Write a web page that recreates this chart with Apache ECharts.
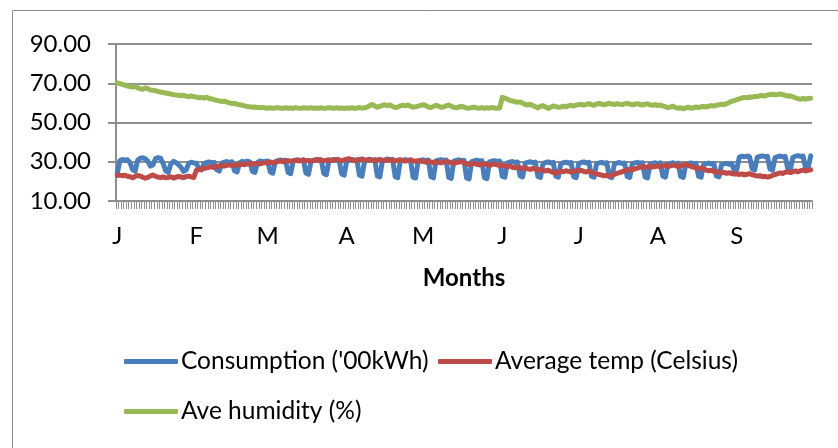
<!DOCTYPE html>
<html>
<head>
<meta charset="utf-8">
<script src="https://cdn.jsdelivr.net/npm/echarts@6/dist/echarts.min.js"></script>
<style>
  html, body { margin: 0; padding: 0; background: #fff; }
  #chart { width: 838px; height: 448px; }
</style>
</head>
<body>
<div id="chart"></div>
<script>
// Month tick labels and day counts (Jan–Sep)
const monthLabels = ['J', 'F', 'M', 'A', 'M', 'J', 'J', 'A', 'S'];
const monthDays = [31, 28, 31, 30, 31, 30, 31, 31, 30];

const seriesNames = ["Consumption ('00kWh)", 'Average temp (Celsius)', 'Ave humidity (%)'];

// Daily consumption ('00kWh), one line per month
const consumption = [
  24.0, 30.5, 31.2, 30.8, 31.0, 29.5, 26.0, 25.2, 30.8, 31.8, 32.0, 31.5, 30.2, 27.8, 28.4, 31.6, 32.1, 31.8, 29.0, 25.4, 24.6, 28.8, 30.2, 29.6, 28.5, 27.2, 25.1, 25.8, 29.1, 29.8, 29.4,
  29.2, 26.4, 25.8, 29.0, 29.6, 29.9, 29.4, 29.7, 25.9, 25.2, 29.3, 29.8, 30.1, 29.6, 30.0, 25.4, 24.8, 29.5, 30.2, 29.8, 30.3, 29.9, 25.1, 24.6, 29.7, 30.4, 30.0, 30.2,
  30.4, 24.8, 24.2, 30.1, 30.6, 30.9, 30.5, 30.8, 24.5, 23.9, 30.3, 30.7, 31.0, 30.6, 30.9, 24.3, 23.6, 30.2, 30.8, 31.1, 30.7, 31.0, 24.0, 23.4, 30.4, 30.9, 31.2, 30.8, 31.0, 23.8, 23.2,
  30.5, 30.9, 31.2, 30.8, 31.0, 23.1, 22.6, 30.4, 30.9, 31.3, 30.7, 31.1, 22.8, 22.3, 30.6, 31.0, 31.4, 30.9, 31.2, 22.5, 21.9, 30.3, 30.8, 31.1, 30.6, 30.9, 22.2, 21.7, 30.2, 30.7,
  31.0, 30.6, 30.9, 22.4, 21.8, 30.4, 30.8, 31.1, 30.7, 30.9, 22.0, 21.5, 30.3, 30.7, 31.0, 30.5, 30.8, 21.8, 21.3, 30.1, 30.5, 30.8, 30.3, 30.6, 21.9, 21.4, 29.9, 30.3, 30.6, 30.2, 30.4,
  22.6, 22.1, 29.4, 29.8, 30.1, 29.6, 29.9, 22.8, 22.3, 29.3, 29.7, 30.0, 29.5, 29.8, 22.5, 22.0, 29.2, 29.6, 29.9, 29.4, 29.7, 22.7, 22.2, 29.1, 29.5, 29.8, 29.3, 29.6, 22.4, 21.9,
  29.2, 29.6, 29.9, 29.4, 29.7, 22.6, 22.1, 29.0, 29.4, 29.7, 29.2, 29.5, 22.4, 21.9, 28.9, 29.3, 29.6, 29.1, 29.4, 22.5, 22.0, 29.0, 29.4, 29.7, 29.2, 29.5, 22.3, 21.8, 28.8, 29.2, 29.5,
  29.0, 29.4, 22.7, 22.2, 28.8, 29.2, 29.5, 29.0, 29.3, 22.5, 22.0, 28.7, 29.1, 29.4, 28.9, 29.2, 22.6, 22.1, 28.6, 29.0, 29.3, 28.8, 29.1, 22.8, 22.3, 28.5, 28.9, 29.2, 28.7, 29.0, 25.5,
  26.0, 32.4, 32.8, 32.5, 32.9, 32.6, 26.5, 25.8, 32.2, 32.7, 33.0, 32.6, 32.8, 26.3, 25.7, 32.1, 32.6, 32.9, 32.5, 32.7, 26.4, 25.9, 32.3, 32.8, 33.1, 32.7, 32.9, 26.6, 27.2, 33.0
];

// Daily average temperature (Celsius)
const avgTemp = [
  23.0, 23.2, 22.9, 23.1, 22.6, 22.4, 21.8, 22.5, 23.0, 22.7, 22.1, 21.6, 22.0, 22.8, 23.2, 22.6, 22.2, 21.9, 22.3, 21.8, 22.0, 22.4, 21.7, 22.1, 22.5, 22.2, 21.9, 22.4, 22.7, 22.3, 22.0,
  25.6, 26.0, 26.3, 26.5, 26.9, 27.2, 27.4, 27.1, 27.6, 27.9, 28.1, 27.8, 28.2, 28.4, 28.0, 28.3, 28.6, 28.4, 28.8, 28.5, 28.9, 29.1, 28.7, 29.0, 29.2, 28.9, 29.3, 29.5,
  29.6, 29.9, 29.4, 29.8, 30.1, 30.4, 30.0, 30.3, 30.6, 30.2, 30.5, 30.8, 30.4, 30.6, 30.9, 30.5, 30.7, 30.3, 30.6, 30.9, 31.1, 30.7, 30.4, 30.8, 31.0, 30.6, 30.9, 31.2, 30.8, 30.5, 30.9,
  31.3, 31.5, 30.9, 30.6, 30.8, 31.2, 31.4, 31.0, 30.7, 31.1, 30.8, 30.5, 30.9, 31.2, 30.8, 30.6, 30.9, 31.1, 30.7, 30.4, 30.8, 31.0, 30.6, 30.3, 30.7, 30.9, 30.5, 30.2, 30.6, 30.4,
  30.1, 29.8, 30.3, 29.9, 29.6, 30.0, 29.7, 29.4, 29.8, 30.2, 29.9, 29.5, 29.2, 29.6, 29.9, 30.1, 29.5, 29.0, 28.6, 28.9, 29.2, 28.7, 28.4, 28.8, 29.1, 28.5, 28.2, 28.6, 28.9, 28.4, 28.1,
  28.3, 27.9, 27.5, 27.8, 27.2, 26.9, 27.3, 26.8, 26.5, 26.9, 26.4, 26.1, 26.6, 26.2, 25.8, 26.1, 25.6, 25.3, 25.7, 25.1, 24.6, 24.2, 24.8, 25.2, 24.9, 25.4, 25.1, 24.7, 25.2, 25.5,
  25.3, 25.6, 25.1, 24.8, 25.2, 24.6, 24.2, 23.8, 23.5, 23.2, 22.8, 23.1, 22.7, 23.0, 23.6, 24.1, 24.5, 24.9, 25.3, 25.8, 26.2, 25.9, 26.4, 26.8, 27.2, 27.5, 27.1, 27.4, 27.8, 27.3, 27.6,
  27.8, 27.4, 27.9, 28.2, 27.6, 27.9, 28.3, 28.0, 27.5, 27.9, 28.4, 28.6, 28.1, 27.7, 27.3, 26.8, 26.5, 26.9, 26.2, 25.8, 25.4, 25.7, 25.1, 24.6, 24.9, 24.3, 24.6, 24.1, 24.4, 24.0, 23.7,
  23.9, 23.5, 23.8, 23.3, 23.6, 24.0, 23.4, 23.1, 22.7, 22.9, 22.4, 22.6, 22.2, 22.5, 23.0, 23.5, 23.9, 24.3, 24.0, 24.6, 24.9, 24.5, 25.0, 25.3, 24.9, 25.4, 25.7, 25.3, 25.6, 25.9
];

// Daily average humidity (%)
const humidity = [
  70.2, 69.8, 69.4, 69.0, 68.6, 68.3, 68.0, 68.4, 67.6, 67.2, 66.9, 67.6, 67.2, 66.6, 66.4, 66.2, 65.8, 65.5, 65.3, 65.0, 64.8, 64.5, 64.2, 64.0, 63.9, 63.6, 63.9, 63.4, 63.2, 63.5, 63.1,
  63.0, 62.6, 62.8, 62.4, 62.9, 62.3, 62.0, 61.6, 61.3, 61.0, 60.7, 60.9, 60.4, 60.0, 59.6, 59.8, 59.3, 59.0, 58.8, 58.5, 58.2, 58.0, 57.8, 57.9, 57.6, 57.5, 57.7, 57.4,
  57.3, 57.5, 57.2, 57.4, 57.6, 57.3, 57.2, 57.5, 57.3, 57.4, 57.2, 57.6, 57.3, 57.2, 57.5, 57.4, 57.3, 57.6, 57.2, 57.4, 57.3, 57.5, 57.2, 57.3, 57.6, 57.4, 57.2, 57.5, 57.3, 57.4, 57.2,
  57.4, 57.3, 57.5, 57.2, 57.4, 57.6, 57.3, 57.5, 57.8, 58.6, 59.2, 58.4, 57.8, 58.2, 58.8, 59.0, 58.6, 58.9, 58.2, 57.6, 57.9, 58.4, 58.8, 58.5, 58.9, 58.3, 57.8, 58.0, 58.4, 58.7,
  59.1, 58.6, 57.9, 57.6, 58.2, 58.8, 58.4, 57.7, 57.9, 58.5, 58.9, 58.3, 57.7, 57.5, 57.9, 58.3, 57.8, 57.4, 57.3, 57.6, 57.8, 57.4, 57.3, 57.6, 57.2, 57.5, 57.3, 57.6, 57.4, 57.2, 57.5,
  62.8, 62.4, 61.9, 61.2, 61.0, 60.6, 60.3, 60.5, 59.8, 59.2, 58.9, 59.3, 58.6, 58.1, 57.4, 58.3, 58.6, 57.9, 57.2, 57.8, 58.4, 58.1, 57.7, 57.9, 58.3, 58.0, 58.5, 58.8, 58.4, 58.9,
  59.0, 59.3, 58.8, 59.2, 59.6, 59.1, 58.8, 59.4, 59.7, 59.3, 59.0, 59.5, 59.8, 59.4, 59.2, 59.6, 59.3, 59.1, 59.5, 59.8, 59.4, 59.0, 59.3, 59.6, 59.2, 58.9, 59.3, 59.5, 59.0, 58.7, 59.1,
  58.6, 58.9, 58.4, 58.1, 57.6, 57.9, 58.3, 57.6, 57.2, 57.5, 57.0, 57.4, 57.8, 57.3, 57.5, 57.9, 57.6, 58.0, 58.2, 57.9, 58.3, 58.6, 58.4, 58.8, 59.0, 59.3, 59.1, 59.6, 60.2, 60.8, 61.2,
  61.6, 62.0, 62.5, 62.8, 62.6, 63.0, 62.9, 63.3, 63.2, 63.6, 63.8, 63.5, 64.0, 64.2, 64.4, 64.1, 64.3, 64.5, 64.2, 63.8, 63.4, 63.6, 63.1, 62.6, 62.2, 61.8, 62.3, 61.9, 62.2, 62.4
];

// Y-axis range
const yMin = 10, yMax = 90, yStep = 20;

// Build day categories and month-start label map
const categories = [];
const monthStartLabel = {};
monthDays.forEach(function (n, m) {
  monthStartLabel[categories.length] = monthLabels[m];
  for (let d = 1; d <= n; d++) categories.push((m + 1) + '/' + d);
});

const FONT = 'Lato, "Open Sans", sans-serif';
const GRID_COLOR = '#8e8e8e';

const chart = echarts.init(document.getElementById('chart'), null, { renderer: 'canvas' });

function legendBox(name, left, top) {
  return {
    data: [name],
    left: left,
    top: top,
    orient: 'horizontal',
    icon: 'roundRect',
    itemWidth: 54,
    itemHeight: 5,
    itemGap: 0,
    padding: 0,
    selectedMode: false,
    textStyle: { fontFamily: FONT, fontSize: 24.5, color: '#000', padding: [0, 0, 0, -2] }
  };
}

chart.setOption({
  animation: false,
  backgroundColor: '#fff',
  color: ['#4A7EBB', '#BE4B48', '#98B954'],
  textStyle: { fontFamily: FONT },
  graphic: [{
    type: 'rect',
    shape: { x: 12.5, y: 10.5, width: 900, height: 600 },
    style: { fill: 'none', stroke: '#8c8c8c', lineWidth: 1 },
    silent: true
  }],
  grid: { left: 116, right: 26, top: 44, bottom: 247, containLabel: false },
  legend: [
    legendBox(seriesNames[0], 124, 349),
    legendBox(seriesNames[1], 438, 349),
    legendBox(seriesNames[2], 124, 399)
  ],
  xAxis: {
    type: 'category',
    data: categories,
    boundaryGap: true,
    name: 'Months',
    nameLocation: 'middle',
    nameGap: 65,
    nameTextStyle: { fontFamily: FONT, fontSize: 24, fontWeight: 'bold', color: '#000' },
    axisLine: { lineStyle: { color: GRID_COLOR, width: 2 } },
    axisTick: { show: true, interval: 0, length: 8, alignWithLabel: false, lineStyle: { color: GRID_COLOR, width: 1 } },
    axisLabel: {
      interval: function (index) { return monthStartLabel.hasOwnProperty(index); },
      formatter: function (value, index) { return monthStartLabel[index] || ''; },
      fontFamily: FONT, fontSize: 24, color: '#000', margin: 23
    },
    splitLine: { show: false }
  },
  yAxis: {
    type: 'value',
    min: yMin, max: yMax, interval: yStep,
    axisLine: { show: true, lineStyle: { color: GRID_COLOR, width: 2 } },
    axisTick: { show: true, length: 8, lineStyle: { color: GRID_COLOR, width: 2 } },
    axisLabel: {
      formatter: function (v) { return v.toFixed(2); },
      fontFamily: FONT, fontSize: 24, color: '#000', margin: 25
    },
    splitLine: { show: true, lineStyle: { color: GRID_COLOR, width: 2 } }
  },
  series: [
    { name: seriesNames[0], type: 'line', data: consumption, showSymbol: false, symbol: 'none',
      lineStyle: { width: 5, cap: 'round', join: 'round' }, emphasis: { disabled: true } },
    { name: seriesNames[1], type: 'line', data: avgTemp, showSymbol: false, symbol: 'none',
      lineStyle: { width: 5, cap: 'round', join: 'round' }, emphasis: { disabled: true } },
    { name: seriesNames[2], type: 'line', data: humidity, showSymbol: false, symbol: 'none',
      lineStyle: { width: 5, cap: 'round', join: 'round' }, emphasis: { disabled: true } }
  ]
});
</script>
</body>
</html>
